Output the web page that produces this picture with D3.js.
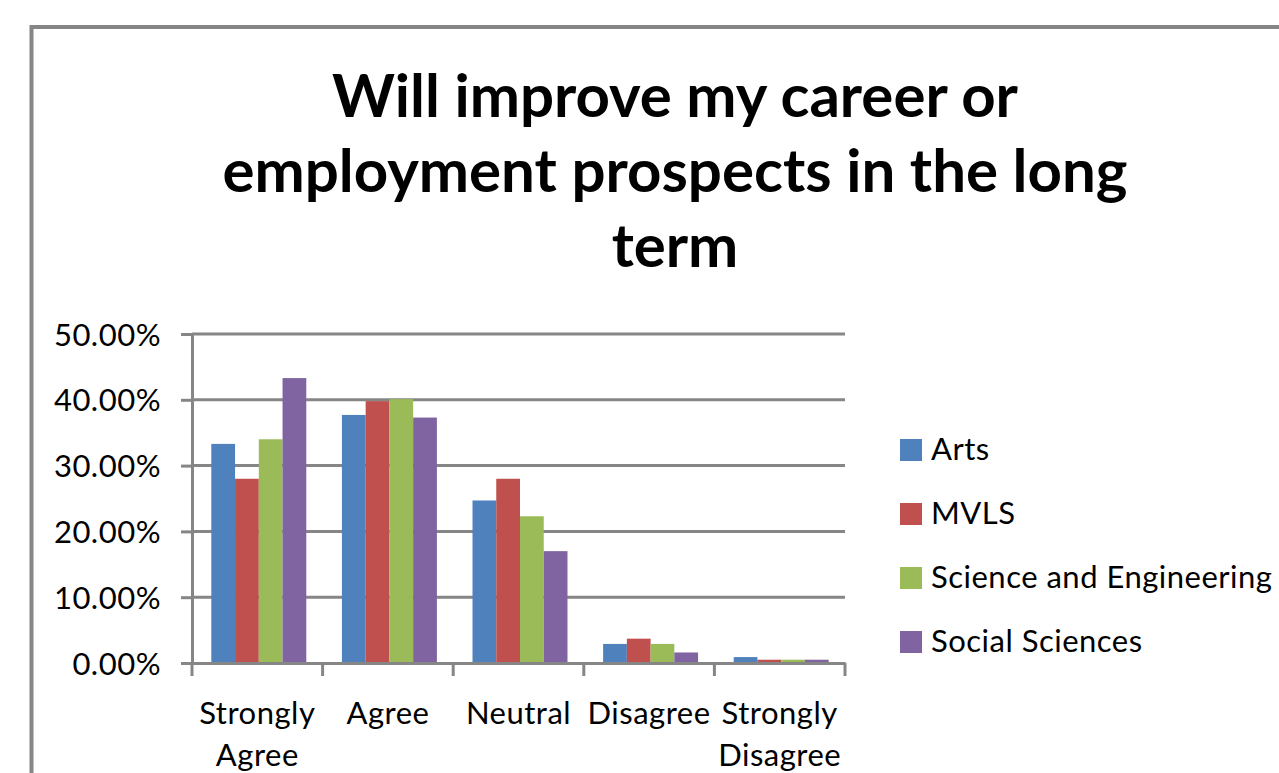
<!DOCTYPE html>
<html>
<head>
<meta charset="utf-8">
<script src="https://cdn.jsdelivr.net/npm/d3@7"></script>
<style>
  html, body { margin: 0; padding: 0; background: #fff; overflow: hidden; }
  svg { display: block; font-family: Lato, "Open Sans", sans-serif; }
</style>
</head>
<body>
<svg id="chart" width="1279" height="773"></svg>
<script>
const titleLines = ["Will improve my career or", "employment prospects in the long", "term"]

const categories = ["Strongly Agree", "Agree", "Neutral", "Disagree", "Strongly Disagree"]
const categoryLines = [["Strongly", "Agree"], ["Agree"], ["Neutral"], ["Disagree"], ["Strongly", "Disagree"]]

const series = ["Arts", "MVLS", "Science and Engineering", "Social Sciences"]
const colors = ["#4F81BD", "#C0504D", "#9BBB59", "#8064A2"]

// percentages as fractions, one array per series, in category order
const arts = [0.333, 0.377, 0.247, 0.029, 0.009]
const mvls = [0.280, 0.398, 0.280, 0.037, 0.005]
const sciEng = [0.340, 0.401, 0.223, 0.029, 0.005]
const socSci = [0.433, 0.373, 0.170, 0.016, 0.005]
const values = [arts, mvls, sciEng, socSci]

const yTicks = [0, 0.1, 0.2, 0.3, 0.4, 0.5]

const svg = d3.select("#chart")
const grey = "#868686"
const labelSize = 31
const labelSpacing = 0.5

// outer chart frame (runs off the right and bottom of the picture)
svg.append("rect")
  .attr("x", 31.5)
  .attr("y", 27)
  .attr("width", 1400)
  .attr("height", 900)
  .attr("fill", "none")
  .attr("stroke", grey)
  .attr("stroke-width", 4)

// title
svg.append("g")
  .attr("class", "title")
  .selectAll("text")
  .data(titleLines)
  .join("text")
  .attr("x", 675)
  .attr("y", (d, i) => 117 + i * 75)
  .attr("text-anchor", "middle")
  .attr("font-weight", 700)
  .attr("font-size", 60)
  .attr("fill", "#000")
  .text(d => d)

const x = d3.scaleBand()
  .domain(categories)
  .range([192, 845])

const xInner = d3.scaleBand()
  .domain(series)
  .range([0, x.bandwidth()])
  .paddingOuter(0.75)

const y = d3.scaleLinear()
  .domain([0, 0.5])
  .range([663, 334])

// gridlines
svg.append("g")
  .attr("class", "grid")
  .selectAll("line")
  .data(yTicks.slice(1))
  .join("line")
  .attr("x1", 192)
  .attr("x2", 845)
  .attr("y1", d => y(d))
  .attr("y2", d => y(d))
  .attr("stroke", grey)
  .attr("stroke-width", 3)

// bars
svg.append("g")
  .attr("class", "bars")
  .attr("transform", "translate(1.5,0)")
  .selectAll("g")
  .data(series)
  .join("g")
  .attr("fill", (d, i) => colors[i])
  .selectAll("rect")
  .data((s, i) => values[i].map((v, j) => ({ s, cat: categories[j], v })))
  .join("rect")
  .attr("x", d => x(d.cat) + xInner(d.s))
  .attr("width", xInner.bandwidth())
  .attr("y", d => y(d.v))
  .attr("height", d => y(0) - y(d.v))

// y axis
const yAxis = svg.append("g")
  .attr("transform", "translate(192,0)")
  .call(d3.axisLeft(y).tickValues(yTicks).tickFormat(d3.format(".2%")).tickSizeOuter(0).tickSize(11).tickPadding(20))

yAxis.select(".domain").attr("stroke", grey).attr("stroke-width", 3)
yAxis.selectAll(".tick line").attr("stroke", grey).attr("stroke-width", 3)
yAxis.selectAll(".tick text")
  .attr("font-size", labelSize)
  .attr("letter-spacing", labelSpacing)
  .attr("fill", "#000")
  .attr("font-family", "Lato, sans-serif")
  .attr("dy", "0.36em")

// x axis
const xAxis = svg.append("g")
  .attr("transform", "translate(0,663)")
  .call(d3.axisBottom(x).tickValues([]).tickSizeOuter(0))

xAxis.select(".domain").attr("stroke", grey).attr("stroke-width", 3)

// category separators below the axis
svg.append("g")
  .selectAll("line")
  .data(categories.concat(["end"]))
  .join("line")
  .attr("x1", (d, i) => i < categories.length ? x(d) : x.range()[1])
  .attr("x2", (d, i) => i < categories.length ? x(d) : x.range()[1])
  .attr("y1", 663)
  .attr("y2", 676)
  .attr("stroke", grey)
  .attr("stroke-width", 3)

// category labels
svg.append("g")
  .attr("class", "x-labels")
  .selectAll("text")
  .data(categories)
  .join("text")
  .attr("x", d => x(d) + x.bandwidth() / 2)
  .attr("y", 724)
  .attr("text-anchor", "middle")
  .attr("font-size", labelSize)
  .attr("letter-spacing", labelSpacing)
  .attr("fill", "#000")
  .selectAll("tspan")
  .data((d, i) => categoryLines[i])
  .join("tspan")
  .attr("x", function () { return this.parentNode.getAttribute("x") })
  .attr("dy", (d, i) => i === 0 ? 0 : 42)
  .text(d => d)

// legend
const legend = svg.append("g")
  .attr("class", "legend")
  .selectAll("g")
  .data(series)
  .join("g")
  .attr("transform", (d, i) => `translate(900,${439 + i * 64})`)

legend.append("rect")
  .attr("width", 22)
  .attr("height", 22)
  .attr("fill", (d, i) => colors[i])

legend.append("text")
  .attr("x", 31)
  .attr("y", 21)
  .attr("font-size", labelSize)
  .attr("letter-spacing", labelSpacing)
  .attr("fill", "#000")
  .text(d => d)
</script>
</body>
</html>
